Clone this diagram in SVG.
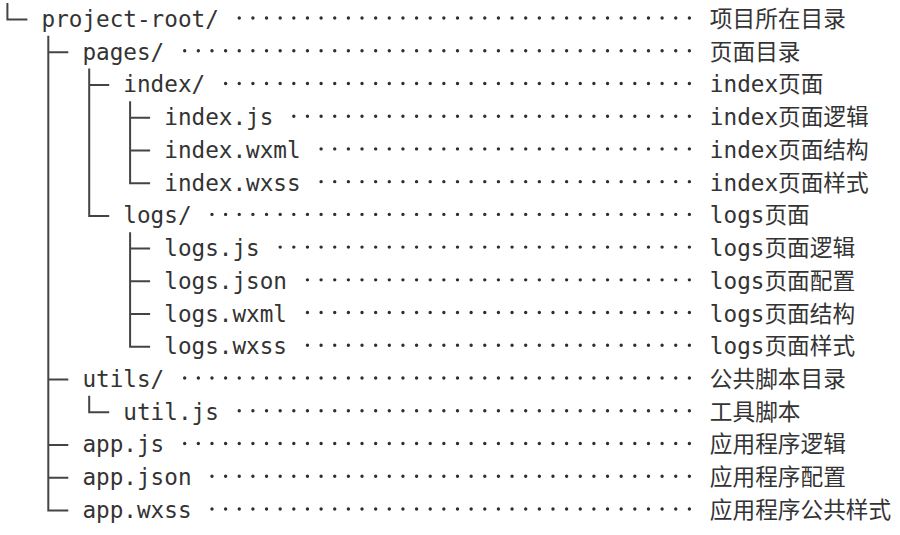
<svg xmlns="http://www.w3.org/2000/svg" width="900" height="535" viewBox="0 0 900 535">
  <style>
    text { font-family: "DejaVu Sans Mono", "Noto Sans CJK SC", monospace; font-size: 22.66px; fill: #333; }
    .desc { font-family: "DejaVu Sans Mono", "Noto Sans CJK SC", monospace; }
    .dots { stroke: #2e2e2e; stroke-width: 3.4; stroke-linecap: round; stroke-dasharray: 0 13.64; fill: none; }
    .tree { stroke: #444; stroke-width: 2; fill: none; }
  </style>
  <rect width="900" height="535" fill="#ffffff"/>
  <g id="connectors" class="tree">
    <path d="M7.4 3V19.5H27.4"/>
    <path d="M48.3 35.8V510.45H68.3M48.3 52.23H68.3M48.3 379.53H68.3M48.3 444.99H68.3M48.3 477.72H68.3"/>
    <path d="M89.2 68.56V215.88H109.2M89.2 84.96H109.2"/>
    <path d="M130.1 101.29V183.15H150.1M130.1 117.69H150.1M130.1 150.42H150.1"/>
    <path d="M130.1 232.21V346.8H150.1M130.1 248.61H150.1M130.1 281.34H150.1M130.1 314.07H150.1"/>
    <path d="M89.2 395.86V412.26H109.2"/>
  </g>
  <g id="node-project-root">
    <text x="41.5" y="27">project-root/</text>
    <line class="dots" x1="239.26" y1="18" x2="690" y2="18"/>
    <text class="desc" x="709.86" y="27">项目所在目录</text>
  </g>
  <g id="node-pages">
    <text x="82.42" y="59.73">pages/</text>
    <line class="dots" x1="184.7" y1="50.73" x2="690" y2="50.73"/>
    <text class="desc" x="709.86" y="59.73">页面目录</text>
  </g>
  <g id="node-index">
    <text x="123.34" y="92.46">index/</text>
    <line class="dots" x1="225.62" y1="83.46" x2="690" y2="83.46"/>
    <text class="desc" x="709.86" y="92.46">index页面</text>
  </g>
  <g id="node-index-js">
    <text x="164.26" y="125.19">index.js</text>
    <line class="dots" x1="293.82" y1="116.19" x2="690" y2="116.19"/>
    <text class="desc" x="709.86" y="125.19">index页面逻辑</text>
  </g>
  <g id="node-index-wxml">
    <text x="164.26" y="157.92">index.wxml</text>
    <line class="dots" x1="321.1" y1="148.92" x2="690" y2="148.92"/>
    <text class="desc" x="709.86" y="157.92">index页面结构</text>
  </g>
  <g id="node-index-wxss">
    <text x="164.26" y="190.65">index.wxss</text>
    <line class="dots" x1="321.1" y1="181.65" x2="690" y2="181.65"/>
    <text class="desc" x="709.86" y="190.65">index页面样式</text>
  </g>
  <g id="node-logs">
    <text x="123.34" y="223.38">logs/</text>
    <line class="dots" x1="211.98" y1="214.38" x2="690" y2="214.38"/>
    <text class="desc" x="709.86" y="223.38">logs页面</text>
  </g>
  <g id="node-logs-js">
    <text x="164.26" y="256.11">logs.js</text>
    <line class="dots" x1="280.18" y1="247.11" x2="690" y2="247.11"/>
    <text class="desc" x="709.86" y="256.11">logs页面逻辑</text>
  </g>
  <g id="node-logs-json">
    <text x="164.26" y="288.84">logs.json</text>
    <line class="dots" x1="307.46" y1="279.84" x2="690" y2="279.84"/>
    <text class="desc" x="709.86" y="288.84">logs页面配置</text>
  </g>
  <g id="node-logs-wxml">
    <text x="164.26" y="321.57">logs.wxml</text>
    <line class="dots" x1="307.46" y1="312.57" x2="690" y2="312.57"/>
    <text class="desc" x="709.86" y="321.57">logs页面结构</text>
  </g>
  <g id="node-logs-wxss">
    <text x="164.26" y="354.3">logs.wxss</text>
    <line class="dots" x1="307.46" y1="345.3" x2="690" y2="345.3"/>
    <text class="desc" x="709.86" y="354.3">logs页面样式</text>
  </g>
  <g id="node-utils">
    <text x="82.42" y="387.03">utils/</text>
    <line class="dots" x1="184.7" y1="378.03" x2="690" y2="378.03"/>
    <text class="desc" x="709.86" y="387.03">公共脚本目录</text>
  </g>
  <g id="node-util-js">
    <text x="123.34" y="419.76">util.js</text>
    <line class="dots" x1="239.26" y1="410.76" x2="690" y2="410.76"/>
    <text class="desc" x="709.86" y="419.76">工具脚本</text>
  </g>
  <g id="node-app-js">
    <text x="82.42" y="452.49">app.js</text>
    <line class="dots" x1="184.7" y1="443.49" x2="690" y2="443.49"/>
    <text class="desc" x="709.86" y="452.49">应用程序逻辑</text>
  </g>
  <g id="node-app-json">
    <text x="82.42" y="485.22">app.json</text>
    <line class="dots" x1="211.98" y1="476.22" x2="690" y2="476.22"/>
    <text class="desc" x="709.86" y="485.22">应用程序配置</text>
  </g>
  <g id="node-app-wxss">
    <text x="82.42" y="517.95">app.wxss</text>
    <line class="dots" x1="211.98" y1="508.95" x2="690" y2="508.95"/>
    <text class="desc" x="709.86" y="517.95">应用程序公共样式</text>
  </g>
</svg>
